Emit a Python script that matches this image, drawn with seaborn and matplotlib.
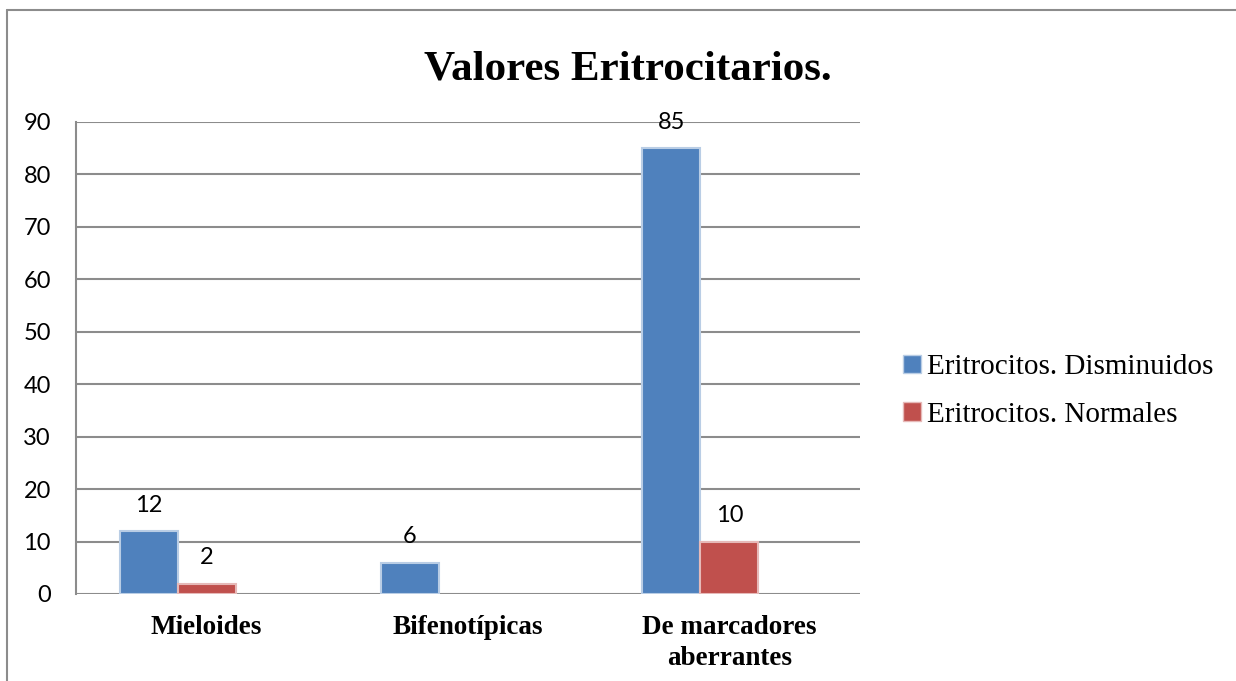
import pandas as pd
import matplotlib.pyplot as plt
import matplotlib.patches as mpatches
from matplotlib.lines import Line2D
import seaborn as sns

# data
categories = ['Mieloides', 'Bifenotípicas', 'De marcadores\naberrantes']
series = ['Eritrocitos. Disminuidos', 'Eritrocitos. Normales']
disminuidos = [12, 6, 85]
normales = [2, None, 10]
yticks = [0, 10, 20, 30, 40, 50, 60, 70, 80, 90]

blue = '#4F81BD'
red = '#C0504D'

rows = []
for cat, d, n in zip(categories, disminuidos, normales):
    rows.append({'cat': cat, 'serie': series[0], 'valor': d})
    if n is not None:
        rows.append({'cat': cat, 'serie': series[1], 'valor': n})
df = pd.DataFrame(rows)

sns.set_style('white')
plt.rcParams['text.color'] = 'black'
plt.rcParams['xtick.color'] = 'black'
plt.rcParams['ytick.color'] = 'black'

fig = plt.figure(figsize=(12.36, 6.81), dpi=100)
ax = fig.add_axes([76 / 1236, 1 - 594 / 681, (860 - 76) / 1236, (594 - 122) / 681])

# the original Excel chart leaves room for a third (empty) series
hue_order = series + ['Serie 3']
palette = {series[0]: blue, series[1]: red, 'Serie 3': '#9BBB59'}
sns.barplot(data=df, x='cat', y='valor', hue='serie', hue_order=hue_order,
            order=categories, palette=palette, width=0.667, gap=0,
            saturation=1, ax=ax, legend=False, errorbar=None)

edge = {blue: '#B9CDE5', red: '#E6B9B8'}
for cont in ax.containers:
    for p in cont:
        fc = p.get_facecolor()
        hexc = '#%02X%02X%02X' % tuple(int(round(c * 255)) for c in fc[:3])
        p.set_edgecolor(edge.get(hexc, 'white'))
        p.set_linewidth(1.5)
    ax.bar_label(cont, fmt='%g', padding=11, fontsize=17, family='Lato', color='black')

ax.set_ylim(0, 90)
ax.set_xlim(-0.5, 2.5)
ax.set_yticks(yticks)
ax.yaxis.grid(True, color='#8C8C8C', linewidth=1.5)
ax.set_axisbelow(True)
for s in ['top', 'right', 'bottom']:
    ax.spines[s].set_visible(False)
ax.spines['left'].set_color('#8C8C8C')
ax.spines['left'].set_linewidth(1.5)
ax.tick_params(axis='both', length=0)
ax.tick_params(axis='y', pad=18, labelsize=17)
for lab in ax.get_yticklabels():
    lab.set_family('Lato')
ax.set_xticks(range(3))
ax.set_xticklabels(categories, fontsize=19.5, fontweight='bold',
                   family='Liberation Serif', linespacing=1.3)
ax.tick_params(axis='x', pad=15)
ax.set_xlabel('')
ax.set_ylabel('')

fig.text(628 / 1236, 1 - 70 / 681, 'Valores Eritrocitarios.', ha='center', va='center',
         fontsize=31, fontweight='bold', family='Liberation Serif', color='black')

handles = [mpatches.Patch(facecolor=blue, edgecolor='#B9CDE5'),
           mpatches.Patch(facecolor=red, edgecolor='#E6B9B8')]
fig.legend(handles, series, loc='center left', bbox_to_anchor=(877 / 1236, 1 - 391 / 681),
           frameon=False, prop={'family': 'Liberation Serif', 'size': 21},
           handlelength=0.6, handleheight=0.6, handletextpad=0.2, labelspacing=0.75)

# outer chart border (left and top visible)
fig.add_artist(Line2D([7 / 1236, 7 / 1236], [0, 1 - 10 / 681], color='#8C8C8C', linewidth=1.5))
fig.add_artist(Line2D([7 / 1236, 1], [1 - 10 / 681, 1 - 10 / 681], color='#8C8C8C', linewidth=1.5))

fig.savefig('out.png', dpi=100)
